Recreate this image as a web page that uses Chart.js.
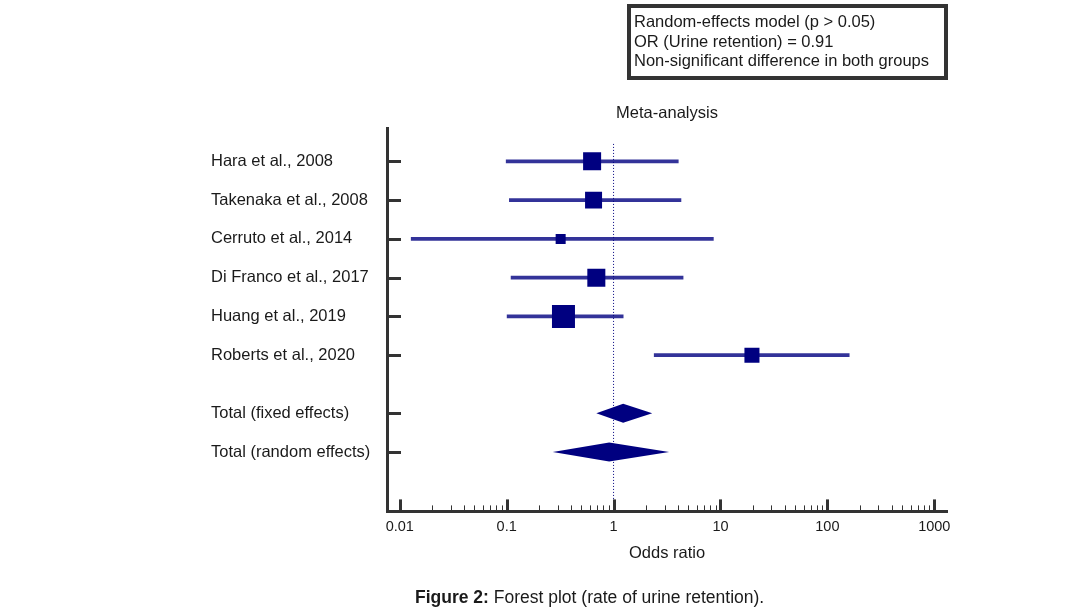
<!DOCTYPE html>
<html>
<head>
<meta charset="utf-8">
<script src="https://cdn.jsdelivr.net/npm/chart.js@4.4.1/dist/chart.umd.min.js"></script>
<style>
  html, body { margin: 0; padding: 0; background: #fff; }
  body { width: 1067px; height: 615px; position: relative; overflow: hidden;
         font-family: "Liberation Sans", Arial, sans-serif; color: #1a1a1a; }
  #forest { position: absolute; left: 0; top: 0; }
  .note { position: absolute; left: 627px; top: 4px; width: 321px; height: 76px; box-sizing: border-box;
          border: 4px solid #333; padding: 4px 0 0 3px; font-size: 16.5px; line-height: 19.5px; white-space: nowrap; }
  .caption { position: absolute; left: 415px; top: 587px; font-size: 17.5px; line-height: 20px; white-space: nowrap; }
</style>
</head>
<body>
<canvas id="forest" width="1067" height="615"></canvas>
<div class="note">Random-effects model (p &gt; 0.05)<br>OR (Urine retention) = 0.91<br>Non-significant difference in both groups</div>
<div class="caption"><b>Figure 2:</b> Forest plot (rate of urine retention).</div>
<script>
// individual studies
const studies = ['Hara et al., 2008', 'Takenaka et al., 2008', 'Cerruto et al., 2014',
                 'Di Franco et al., 2017', 'Huang et al., 2019', 'Roberts et al., 2020'];
const studyOR = [0.63, 0.65, 0.32, 0.69, 0.34, 19.7];
const studyLow = [0.099, 0.106, 0.0128, 0.110, 0.101, 2.40];
const studyHigh = [4.03, 4.27, 8.58, 4.47, 1.23, 160];
const studyWeight = [18.1, 16.1, 5.6, 18.1, 29.5, 12.6]; // % weight

// pooled estimates
const pooled = ['Total (fixed effects)', 'Total (random effects)'];
const pooledOR = [1.23, 0.91];
const pooledLow = [0.69, 0.27];
const pooledHigh = [2.30, 3.31];

// x axis
const xTicks = [0.01, 0.1, 1, 10, 100, 1000];
const xTickLabels = ['0.01', '0.1', '1', '10', '100', '1000'];

// row positions: studies one per row, then a gap, then the totals
const rowPos = studies.map((s, i) => i + 1).concat(pooled.map((s, i) => studies.length + 1.5 + i));
const rowLabels = studies.concat(pooled);

const navy = '#000080';
const ciColor = '#333399';
const axisColor = '#333';
const diamondHalf = 0.245;
const squareSide = w => 4.235 * Math.sqrt(w);

Chart.defaults.font.family = '"Liberation Sans", Arial, sans-serif';
Chart.defaults.color = '#1a1a1a';

// inward tick marks, like the original figure
const tickMarks = {
  id: 'tickMarks',
  afterDraw(chart) {
    const {ctx, chartArea: a, scales: {x, y}} = chart;
    ctx.save();
    ctx.strokeStyle = axisColor;
    x.ticks.forEach(t => {
      const big = xTicks.indexOf(t.value) >= 0;
      const px = Math.round(x.getPixelForValue(t.value)) + 0.5;
      ctx.lineWidth = big ? 3 : 1;
      ctx.beginPath();
      ctx.moveTo(px, a.bottom);
      ctx.lineTo(px, a.bottom - (big ? 12 : 6));
      ctx.stroke();
    });
    ctx.lineWidth = 3;
    y.ticks.forEach(t => {
      const py = Math.round(y.getPixelForValue(t.value)) + 0.5;
      ctx.beginPath();
      ctx.moveTo(a.left, py);
      ctx.lineTo(a.left + 14, py);
      ctx.stroke();
    });
    ctx.restore();
  }
};

const datasets = [
  {
    type: 'scatter',
    data: studyOR.map((v, i) => ({x: v, y: rowPos[i]})),
    pointStyle: 'rect',
    pointRadius: c => squareSide(studyWeight[c.dataIndex]) / Math.SQRT2,
    backgroundColor: navy,
    borderWidth: 0,
    order: 0
  }
];

pooled.forEach((name, i) => {
  const r = rowPos[studies.length + i];
  datasets.push({
    type: 'scatter',
    showLine: true,
    fill: 'shape',
    backgroundColor: navy,
    borderWidth: 0,
    pointRadius: 0,
    data: [
      {x: pooledLow[i], y: r},
      {x: pooledOR[i], y: r - diamondHalf},
      {x: pooledHigh[i], y: r},
      {x: pooledOR[i], y: r + diamondHalf}
    ],
    order: 1
  });
});

// line of no effect
datasets.push({
  type: 'scatter',
  showLine: true,
  data: [{x: 1, y: 0.55}, {x: 1, y: 10.03}],
  borderColor: navy,
  borderWidth: 1,
  borderDash: [1, 2],
  pointRadius: 0,
  fill: false,
  order: 2
});

// confidence intervals
datasets.push({
  type: 'bar',
  indexAxis: 'y',
  data: studies.map((s, i) => ({y: rowPos[i], x: [studyLow[i], studyHigh[i]]})),
  backgroundColor: ciColor,
  borderWidth: 0,
  barThickness: 3,
  order: 3
});

new Chart(document.getElementById('forest'), {
  type: 'scatter',
  data: {datasets: datasets},
  plugins: [tickMarks],
  options: {
    responsive: false,
    animation: false,
    events: [],
    layout: {padding: {left: 211, right: 120, top: 104, bottom: 52}},
    plugins: {legend: {display: false}, tooltip: {enabled: false}},
    scales: {
      x: {
        type: 'logarithmic',
        min: 0.0076,
        max: 1315,
        offset: false,
        afterBuildTicks: scale => {
          const t = [];
          xTicks.forEach((v, i) => {
            t.push({value: v});
            if (i < xTicks.length - 1) {
              for (let m = 2; m <= 9; m++) t.push({value: v * m});
            }
          });
          scale.ticks = t;
        },
        grid: {display: false, drawTicks: false},
        border: {display: true, width: 3, color: axisColor},
        ticks: {
          autoSkip: false,
          maxRotation: 0,
          padding: 7,
          font: {size: 14.5},
          callback: v => {
            const k = xTicks.indexOf(v);
            return k >= 0 ? xTickLabels[k] : '';
          }
        },
        title: {display: true, text: 'Odds ratio', font: {size: 16.5}, padding: {top: 0.4, bottom: 0}}
      },
      x2: {
        type: 'linear',
        position: 'top',
        display: true,
        grid: {display: false, drawTicks: false},
        border: {display: false},
        ticks: {display: false},
        title: {display: true, text: 'Meta-analysis', font: {size: 16.5}, padding: {top: 0, bottom: 5}}
      },
      y: {
        type: 'linear',
        reverse: true,
        offset: false,
        min: 0.16,
        max: 10.03,
        afterBuildTicks: scale => { scale.ticks = rowPos.map(v => ({value: v})); },
        afterFit: scale => { scale.width = 176; },
        grid: {display: false, drawTicks: false},
        border: {display: true, width: 3, color: axisColor},
        ticks: {
          crossAlign: 'far',
          padding: 0,
          autoSkip: false,
          font: {size: 16.5},
          callback: (v, i) => rowLabels[i]
        }
      }
    }
  }
});
</script>
</body>
</html>
